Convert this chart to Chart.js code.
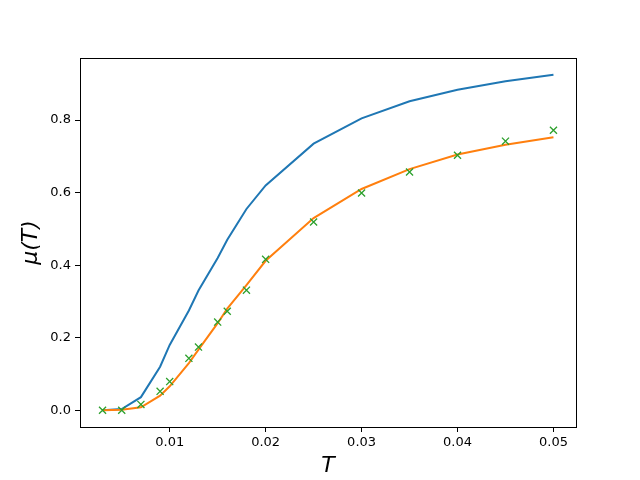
<!DOCTYPE html>
<html><head><meta charset="utf-8">
<script src="https://cdn.jsdelivr.net/npm/chart.js@4"></script>
<style>html,body{margin:0;padding:0;background:#fff}#wrap{width:640px;height:480px}</style>
</head><body><div id="wrap"><canvas id="c" width="640" height="480"></canvas></div>
<script>
const T = [0.003,0.005,0.007,0.009,0.010,0.012,0.013,0.015,0.016,0.018,0.020,0.025,0.030,0.035,0.040,0.045,0.050];
const muBlue = [0.000,0.003,0.036,0.120,0.180,0.275,0.330,0.420,0.470,0.555,0.620,0.735,0.805,0.852,0.884,0.907,0.925];
const muOrange = [0.000,0.001,0.008,0.040,0.066,0.130,0.167,0.240,0.280,0.345,0.412,0.530,0.610,0.665,0.705,0.732,0.753];
const muMarks = [0.000,0.000,0.016,0.052,0.079,0.143,0.174,0.243,0.273,0.331,0.416,0.519,0.599,0.657,0.703,0.742,0.772];
const xTicks = [0.01,0.02,0.03,0.04,0.05];
const yTicks = [0.0,0.2,0.4,0.6,0.8];

const pts = ys => T.map((x,i)=>({x:x,y:ys[i]}));
const frame = {id:'frame',afterDatasetsDraw(ch){const a=ch.chartArea,c=ch.ctx;c.save();c.strokeStyle='#000';c.lineWidth=1;c.strokeRect(Math.round(a.left)+0.5,Math.round(a.top)+0.5,Math.round(a.right-a.left),Math.round(a.bottom-a.top));c.restore();}};
const font = {family:'DejaVu Sans',size:13};
new Chart(document.getElementById('c'),{
  type:'scatter',
  data:{datasets:[
    {data:pts(muBlue),showLine:true,borderColor:'#1f77b4',borderWidth:2,pointRadius:0,order:2},
    {data:pts(muOrange),showLine:true,borderColor:'#ff7f0e',borderWidth:2,pointRadius:0,order:1},
    {data:pts(muMarks),showLine:false,borderColor:'#2ca02c',backgroundColor:'#2ca02c',pointStyle:'crossRot',pointRadius:5,borderWidth:1.3,order:0}
  ]},
  options:{
    responsive:false,animation:false,
    layout:{padding:{left:0,top:58,right:64,bottom:0}},
    plugins:{legend:{display:false},tooltip:{enabled:false}},
    scales:{
      x:{type:'linear',min:0.00065,max:0.05235,
        afterBuildTicks:s=>{s.ticks=xTicks.map(v=>({value:v}));},
        afterFit:s=>{s.height=53;},
        grid:{drawOnChartArea:false,drawTicks:true,tickLength:5,color:'#000'},
        border:{display:false},
        ticks:{color:'#000',font:font,padding:3,maxRotation:0,callback:v=>v.toFixed(2)},
        title:{display:true,text:'T',color:'#000',font:{family:'DejaVu Sans',size:22,style:'italic'},padding:{top:0,bottom:1}}
      },
      y:{type:'linear',min:-0.0463,max:0.9713,
        afterBuildTicks:s=>{s.ticks=yTicks.map(v=>({value:v}));},
        afterFit:s=>{s.width=80;},
        grid:{drawOnChartArea:false,drawTicks:true,tickLength:5,color:'#000'},
        border:{display:false},
        ticks:{color:'#000',font:font,padding:4,callback:v=>v.toFixed(1)},
        title:{display:true,text:'μ(T)',color:'#000',font:{family:'DejaVu Sans',size:22,style:'italic'},padding:{top:18,bottom:0}}
      }
    }
  },
  plugins:[frame]
});
</script></body></html>
